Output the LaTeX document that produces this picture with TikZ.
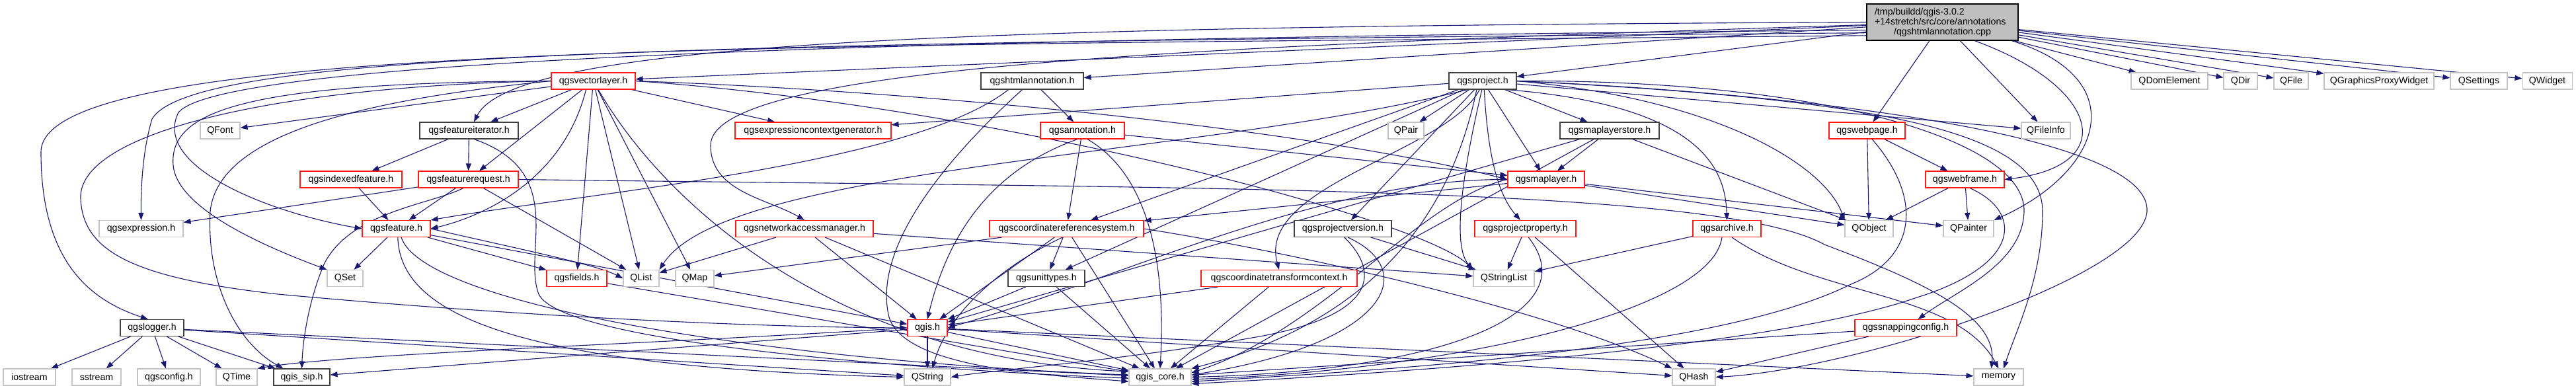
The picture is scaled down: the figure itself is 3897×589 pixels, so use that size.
\documentclass[tikz,border=0pt]{standalone}
\usepackage{fontspec}
\setmainfont{Liberation Sans}
\usetikzlibrary{arrows.meta,backgrounds}
\definecolor{edgeblue}{HTML}{191970}
\definecolor{extgray}{HTML}{C4C4C4}
\definecolor{truncred}{HTML}{FF1A1A}
\definecolor{fullblack}{HTML}{404040}
\definecolor{rootgray}{HTML}{BFBFBF}
\tikzset{
  nbox/.style={draw, rectangle, line width=1.1pt, minimum height=25pt, inner sep=0pt, fill=white, font=\fontsize{14.2}{15}\selectfont},
  gbox/.style={nbox, draw=extgray},
  rbox/.style={nbox, draw=truncred},
  kbox/.style={nbox, draw=fullblack},
  edg/.style={draw=edgeblue, line width=1.1pt, -{Triangle[length=11pt,width=8pt]}},
}
\begin{document}
\begin{tikzpicture}[x=1pt,y=-1pt]
\useasboundingbox (0,0) rectangle (3897,589);
% root
\node[nbox, draw=black, fill=rootgray, minimum width=229pt, minimum height=55pt, align=center] (root) at (2938.5,33.5)
  {\makebox[205pt][l]{/tmp/buildd/qgis-3.0.2}\\\makebox[205pt][l]{+14stretch/src/core/annotations}\\\makebox[205pt][c]{/qgshtmlannotation.cpp}};
% row 1
\node[rbox, minimum width=127pt] (vl) at (897.5,122.5) {qgsvectorlayer.h};
\node[kbox, minimum width=155pt] (ha) at (1561.5,122.5) {qgshtmlannotation.h};
\node[kbox, minimum width=102pt] (pr) at (2243,122.5) {qgsproject.h};
\node[gbox, minimum width=116pt] (qdom) at (3282,122.5) {QDomElement};
\node[gbox, minimum width=51pt] (qdir) at (3389.5,122.5) {QDir};
\node[gbox, minimum width=52pt] (qfile) at (3466,122.5) {QFile};
\node[gbox, minimum width=166pt] (qgpw) at (3599,122.5) {QGraphicsProxyWidget};
\node[gbox, minimum width=86pt] (qsett) at (3750,122.5) {QSettings};
\node[gbox, minimum width=75pt] (qwid) at (3853.5,122.5) {QWidget};
% row 2
\node[gbox, minimum width=60pt] (qfont) at (333,197.5) {QFont};
\node[kbox, minimum width=149pt] (fi) at (709.5,197.5) {qgsfeatureiterator.h};
\node[rbox, minimum width=236pt] (ecg) at (1230,197.5) {qgsexpressioncontextgenerator.h};
\node[rbox, minimum width=127pt] (an) at (1637.5,197.5) {qgsannotation.h};
\node[gbox, minimum width=54pt] (qpair) at (2127,197.5) {QPair};
\node[kbox, minimum width=150pt] (mls) at (2435,197.5) {qgsmaplayerstore.h};
\node[rbox, minimum width=115pt] (wp) at (2824.5,197.5) {qgswebpage.h};
\node[gbox, minimum width=74pt] (qfi) at (3095,197.5) {QFileInfo};
% row 3
\node[rbox, minimum width=154pt] (idx) at (531,271.5) {qgsindexedfeature.h};
\node[rbox, minimum width=151pt] (fr) at (708.5,271.5) {qgsfeaturerequest.h};
\node[rbox, minimum width=116pt] (ml) at (2339,271.5) {qgsmaplayer.h};
\node[rbox, minimum width=119pt] (wf) at (2972.5,271.5) {qgswebframe.h};
% row 4
\node[gbox, minimum width=127pt] (expr) at (213.5,346) {qgsexpression.h};
\node[rbox, minimum width=103pt] (feat) at (599.5,346) {qgsfeature.h};
\node[rbox, minimum width=208pt] (nam) at (1217,346) {qgsnetworkaccessmanager.h};
\node[rbox, minimum width=233pt] (crs) at (1613.5,346) {qgscoordinatereferencesystem.h};
\node[kbox, minimum width=147pt] (pv) at (2031.5,346) {qgsprojectversion.h};
\node[rbox, minimum width=153pt] (pp) at (2307.5,346) {qgsprojectproperty.h};
\node[rbox, minimum width=103pt] (ar) at (2612.5,346) {qgsarchive.h};
\node[gbox, minimum width=73pt] (qobj) at (2827.5,346) {QObject};
\node[gbox, minimum width=76pt] (qpaint) at (2978,346) {QPainter};
% row 5
\node[gbox, minimum width=54pt] (qsetn) at (522,421) {QSet};
\node[rbox, minimum width=91pt] (flds) at (872.5,421) {qgsfields.h};
\node[gbox, minimum width=54pt] (qlist) at (970,421) {QList};
\node[gbox, minimum width=58pt] (qmap) at (1051,421) {QMap};
\node[kbox, minimum width=116pt] (ut) at (1583,421) {qgsunittypes.h};
\node[rbox, minimum width=236pt] (ctc) at (1935,421) {qgscoordinatetransformcontext.h};
\node[gbox, minimum width=92pt] (qsl) at (2275,421) {QStringList};
% row 6
\node[kbox, minimum width=96pt] (log) at (230,496) {qgslogger.h};
\node[rbox, minimum width=60pt] (qgis) at (1403,496) {qgis.h};
\node[rbox, minimum width=154pt] (snap) at (2883,496) {qgssnappingconfig.h};
% row 7
\node[gbox, minimum width=79pt] (ios) at (44.5,570.5) {iostream};
\node[gbox, minimum width=74pt] (sst) at (146,570.5) {sstream};
\node[gbox, minimum width=95pt] (cfg) at (255.5,570.5) {qgsconfig.h};
\node[gbox, minimum width=62pt] (qtime) at (358,570.5) {QTime};
\node[kbox, minimum width=85pt] (sip) at (456.5,570.5) {qgis\_sip.h};
\node[gbox, minimum width=70pt] (qstr) at (1403,570.5) {QString};
\node[gbox, minimum width=94pt] (core) at (1755,570.5) {qgis\_core.h};
\node[gbox, minimum width=65pt] (qhash) at (2562.5,570.5) {QHash};
\node[gbox, minimum width=75pt] (mem) at (3023.5,570.5) {memory};

\begin{pgfonlayer}{background}
\fill[white] (0,0) rectangle (3897,589);
% root
\draw[edg] (root) -- (ha);
\draw[edg] (root) -- (vl);
\draw[edg] (root) -- (pr);
\draw[edg] (root) -- (wp);
\draw[edg] (root) -- (qfi);
\draw[edg] (root) -- (qdom);
\draw[edg] (root) -- (qdir);
\draw[edg] (root) -- (qfile);
\draw[edg] (root) -- (qgpw);
\draw[edg] (root) -- (qsett);
\draw[edg] (root) -- (qwid);
\draw[edg] (root.west) .. controls (1500,40) and (780,60) .. (fi.60);
\draw[edg] (root.186) .. controls (1100,60) and (330,100) .. (270,170) .. controls (230,250) and (400,320) .. (feat.west);
\draw[edg] (root.188) .. controls (1000,65) and (290,80) .. (230,180) .. controls (215,230) and (213,290) .. (expr.north);
\draw[edg] (root.190) .. controls (1200,70) and (62,60) .. (62,230) .. controls (62,400) and (140,455) .. (log.115);
\draw[edg] (root.182) .. controls (1800,70) and (1075,100) .. (1075,220) .. controls (1075,290) and (1160,300) .. (nam.north);
\draw[edg] (root.-30) .. controls (3175,130) and (3210,250) .. (wf.east);
\draw[edg] (root.-15) .. controls (3230,120) and (3180,260) .. (qpaint.north east);
% qgshtmlannotation.h
\draw[edg] (ha) -- (an);
\draw[edg] (ha.-160) .. controls (1380,250) and (900,290) .. (feat.north east);
\draw[edg] ([xshift=-15pt]ha.south) .. controls (1420,250) and (1320,380) .. (1345,480) .. controls (1370,560) and (1600,568) .. (core.188);
% qgsvectorlayer.h
\draw[edg] (vl) -- (qfont);
\draw[edg] (vl) -- (fi);
\draw[edg] (vl) -- (fr);
\draw[edg] (vl) -- (ecg);
\draw[edg] (vl) -- (flds);
\draw[edg] (vl) -- (qlist);
\draw[edg] (vl) -- (qmap);
\draw[edg] (vl.-130) .. controls (850,280) and (720,330) .. (feat.east);
\draw[edg] (vl.east) .. controls (1500,160) and (2150,330) .. (qsl.north west);
\draw[edg] (vl.west) .. controls (380,125) and (255,165) .. (262,250) .. controls (268,320) and (420,380) .. (qsetn.north west);
\draw[edg] (vl.west) .. controls (560,150) and (330,200) .. (318,320) .. controls (312,430) and (360,520) .. (sip.155);
\draw[edg] (vl.west) .. controls (420,130) and (118,200) .. (122,300) .. controls (125,380) and (200,420) .. (420,445) .. controls (800,480) and (1150,495) .. (qgis.west);
\draw[edg] (vl.east) .. controls (1450,140) and (2000,200) .. (ml.west);
\draw[edg] (vl.-60) .. controls (1000,300) and (1250,540) .. (core.170);
% qgsproject.h
\draw[edg] (pr) -- (qpair);
\draw[edg] (pr) -- (mls);
\draw[edg] (pr) -- (ml);
\draw[edg] (pr) -- (ecg);
\draw[edg] (pr) -- (qfi);
\draw[edg] (pr) -- (pv);
\draw[edg] (pr) -- (crs);
\draw[edg] (pr) -- (ut);
\draw[edg] (pr.east) .. controls (2600,150) and (2760,250) .. (qobj.north west);
\draw[edg] (pr.east) .. controls (2850,150) and (3090,200) .. (3090,320) .. controls (3090,420) and (3050,500) .. (mem.60);
\draw[edg] (pr.east) .. controls (2750,120) and (3065,210) .. (3062,320) .. controls (3060,400) and (2960,440) .. (snap.35);
\draw[edg] (pr.east) .. controls (2700,140) and (3255,200) .. (3248,320) .. controls (3240,420) and (2800,560) .. (qhash.east);
\draw[edg] (pr.-20) .. controls (2580,160) and (2610,260) .. (ar.north);
\draw[edg] (pr.-80) .. controls (2250,220) and (2262,290) .. (pp.120);
\draw[edg] (pr.-95) .. controls (2215,250) and (2195,370) .. (qsl.north west);
\draw[edg] (pr.-110) .. controls (2190,230) and (1900,280) .. (ctc.north);
\draw[edg] (pr.-150) .. controls (1800,240) and (1100,250) .. (qlist.north east);
\draw[edg] (pr.-125) .. controls (2200,300) and (2100,480) .. (core.north east);
% qgsfeatureiterator.h
\draw[edg] (fi) -- (idx);
\draw[edg] (fi) -- (fr);
\draw[edg] (fi.-60) .. controls (860,260) and (790,380) .. (815,445) .. controls (850,520) and (1400,560) .. (core.182);
% qgsfeaturerequest.h
\draw[edg] (fr) -- (feat);
\draw[edg] (fr) -- (expr);
\draw[edg] (fr) -- (qlist);
\draw[edg] (fr.-120) .. controls (650,310) and (530,320) .. (490,400) .. controls (465,460) and (458,520) .. (sip.north);
\draw[edg] (fr.east) .. controls (1800,285) and (2600,280) .. (2760,370) .. controls (2920,430) and (3020,480) .. (mem.130);
% qgsindexedfeature.h
\draw[edg] (idx) -- (feat);
% qgsfeature.h
\draw[edg] (feat) -- (qsetn);
\draw[edg] (feat) -- (flds);
\draw[edg] (feat) -- (qgis);
\draw[edg] (feat.east) .. controls (800,380) and (900,400) .. (qlist.west);
\draw[edg] (feat.-80) .. controls (605,470) and (760,555) .. (qstr.west);
\draw[edg] (feat.-60) .. controls (640,460) and (1150,545) .. (core.176);
% qgsfields.h
\draw[edg] (flds) -- (core);
% qgsnetworkaccessmanager.h
\draw[edg] (nam) -- (qlist);
\draw[edg] (nam) -- (qsl);
\draw[edg] (nam) -- (qgis);
\draw[edg] (nam) -- (core);
% qgsannotation.h
\draw[edg] (an) -- (ml);
\draw[edg] (an) -- (crs);
\draw[edg] (an.-120) .. controls (1520,250) and (1440,330) .. (qgis.north);
\draw[edg] (an.-60) .. controls (1730,260) and (1765,380) .. (core.north);
% qgscoordinatereferencesystem.h
\draw[edg] (crs) -- (ut);
\draw[edg] (crs) -- (qmap);
\draw[edg] (crs) -- (qgis);
\draw[edg] (crs) -- (core);
\draw[edg] (crs.-115) .. controls (1520,400) and (1435,470) .. (qstr.60);
\draw[edg] (crs.east) .. controls (1950,380) and (2350,470) .. (qhash.north west);
% qgsunittypes.h, qgscoordinatetransformcontext.h
\draw[edg] (ut) -- (qgis);
\draw[edg] (ut) -- (core);
\draw[edg] (ctc) -- (qgis);
\draw[edg] (ctc) -- (core);
% qgis.h
\draw[edg] (qgis) -- (qstr);
\draw[edg] (qgis) -- (core);
\draw[edg] (qgis) -- (sip);
\draw[edg] (qgis) -- (qhash);
\draw[edg] (qgis) -- (mem);
\draw[edg] (qgis.west) .. controls (1000,520) and (520,535) .. (qtime.north east);
% qgslogger.h
\draw[edg] (log) -- (ios);
\draw[edg] (log) -- (sst);
\draw[edg] (log) -- (cfg);
\draw[edg] (log) -- (qtime);
\draw[edg] (log) -- (sip);
\draw[edg] (log) -- (qstr);
\draw[edg] (log) -- (core);
% qgsmaplayerstore.h
\draw[edg] (mls) -- (ml);
\draw[edg] (mls) -- (qobj);
\draw[edg] (mls) -- (qgis);
\draw[edg] (mls) -- (core);
% qgsmaplayer.h
\draw[edg] (ml) -- (crs);
\draw[edg] (ml) -- (qobj);
\draw[edg] (ml) -- (qpaint);
\draw[edg] (ml.west) .. controls (2000,270) and (1700,420) .. (qgis.east);
\draw[edg] (ml.west) .. controls (2150,300) and (2000,500) .. (core.8);
% qgsprojectversion.h, qgsprojectproperty.h, qgsarchive.h, qgssnappingconfig.h
\draw[edg] (pv) -- (qsl);
\draw[edg] (pv.-80) .. controls (2095,420) and (2070,480) .. (1900,510) .. controls (1700,545) and (1500,560) .. (qstr.east);
\draw[edg] (pv.-60) .. controls (2150,410) and (2100,520) .. (core.4);
\draw[edg] (pp) -- (qsl);
\draw[edg] (pp) -- (qhash);
\draw[edg] (pp.-70) .. controls (2400,470) and (2200,560) .. (core.east);
\draw[edg] (ar) -- (qsl);
\draw[edg] (ar.-60) .. controls (2750,450) and (2960,440) .. (mem.north);
\draw[edg] (ar.-120) .. controls (2590,470) and (2200,560) .. (core.-4);
\draw[edg] (snap) -- (core);
\draw[edg] (snap) -- (qhash);
% qgswebpage.h, qgswebframe.h
\draw[edg] (wp) -- (wf);
\draw[edg] (wp) -- (qobj);
\draw[edg] (wp.-60) .. controls (2910,300) and (2900,390) .. (2800,430) .. controls (2600,530) and (2100,560) .. (core.-8);
\draw[edg] (wf) -- (qobj);
\draw[edg] (wf) -- (qpaint);
\draw[edg] (wf.-60) .. controls (3060,320) and (3060,400) .. (2900,450) .. controls (2700,520) and (2200,560) .. (core.-12);
\end{pgfonlayer}
\end{tikzpicture}
\end{document}
